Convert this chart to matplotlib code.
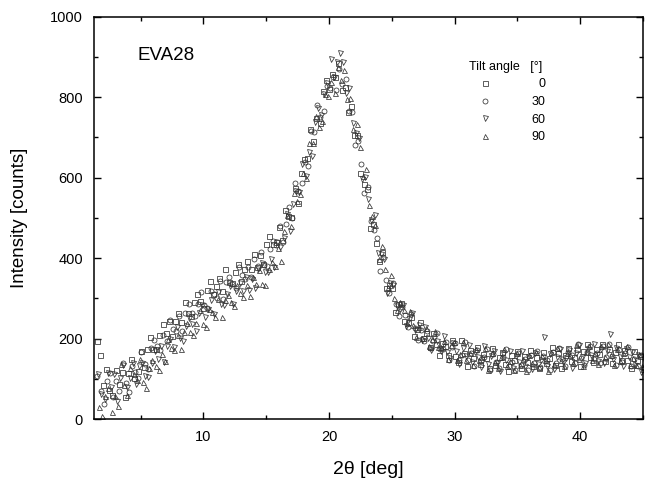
import matplotlib
matplotlib.use("Agg")
import matplotlib.pyplot as plt
import numpy as np
from matplotlib.ticker import MultipleLocator

plt.rcParams['font.family'] = ['Liberation Sans', 'DejaVu Sans']

# 2theta scan: step 0.25 deg, each tilt scan starts slightly shifted
step = 0.25
scan_start = [1.5, 1.5625, 1.625, 1.6875]

# intensities, one list per tilt angle
tilt_0 = [195, 160, 85, 124, 73, 59, 123, 87, 118, 55,
          115, 149, 101, 120, 169, 130, 174, 205, 174, 174,
          209, 236, 214, 244, 206, 243, 263, 241, 292, 263,
          257, 292, 312, 294, 277, 322, 342, 310, 330, 351,
          318, 372, 341, 338, 366, 386, 342, 373, 392, 374,
          411, 378, 407, 386, 434, 455, 435, 440, 478, 444,
          519, 504, 503, 575, 537, 611, 646, 650, 721, 692,
          749, 735, 815, 844, 821, 859, 851, 886, 819, 826,
          763, 778, 707, 706, 612, 585, 571, 474, 484, 438,
          393, 415, 325, 334, 326, 266, 286, 289, 243, 242,
          254, 206, 224, 241, 201, 215, 179, 213, 187, 158,
          190, 181, 158, 197, 157, 143, 196, 165, 131, 172,
          152, 179, 137, 162, 151, 126, 177, 135, 153, 166,
          138, 119, 160, 147, 168, 126, 156, 142, 171, 132,
          154, 126, 166, 140, 151, 179, 135, 164, 128, 158,
          177, 145, 154, 175, 131, 168, 187, 155, 142, 175,
          161, 187, 145, 173, 139, 166, 187, 146, 172, 147,
          126, 168, 146, 157, 125]

tilt_30 = [108, 70, 38, 94, 114, 55, 95, 69, 140, 89,
           66, 131, 117, 103, 167, 138, 125, 176, 196, 181,
           171, 208, 193, 246, 224, 219, 256, 220, 264, 285,
           264, 256, 286, 316, 284, 276, 319, 310, 300, 343,
           299, 340, 353, 335, 325, 379, 358, 349, 378, 353,
           398, 381, 416, 384, 381, 423, 443, 433, 480, 440,
           486, 527, 500, 588, 566, 586, 640, 629, 716, 714,
           780, 750, 766, 829, 823, 851, 819, 871, 832, 845,
           767, 763, 682, 691, 633, 562, 578, 493, 469, 449,
           367, 402, 345, 314, 338, 286, 255, 278, 259, 229,
           260, 227, 196, 222, 195, 220, 176, 193, 214, 174,
           175, 191, 146, 180, 189, 146, 160, 191, 146, 163,
           133, 172, 145, 153, 175, 122, 162, 142, 127, 154,
           173, 131, 143, 122, 164, 134, 149, 121, 160, 139,
           168, 129, 157, 148, 121, 166, 139, 177, 149, 132,
           166, 159, 140, 186, 151, 134, 167, 181, 149, 164,
           139, 181, 153, 186, 157, 134, 172, 142, 163, 180,
           133, 149, 132, 158, 128]

tilt_60 = [112, 63, 51, 115, 80, 111, 45, 103, 134, 79,
           102, 139, 88, 131, 140, 106, 104, 139, 169, 149,
           182, 143, 181, 200, 179, 229, 201, 194, 231, 252,
           236, 218, 263, 283, 253, 273, 295, 262, 317, 286,
           283, 311, 331, 287, 318, 337, 318, 354, 320, 349,
           326, 372, 389, 365, 365, 398, 378, 439, 427, 449,
           510, 467, 534, 566, 565, 633, 604, 664, 655, 738,
           774, 756, 807, 836, 896, 851, 888, 910, 888, 810,
           823, 737, 712, 699, 597, 602, 546, 495, 508, 412,
           410, 398, 314, 338, 333, 282, 274, 283, 232, 248,
           263, 222, 235, 197, 229, 201, 171, 202, 193, 169,
           207, 166, 151, 189, 170, 136, 177, 157, 184, 141,
           166, 155, 130, 181, 138, 156, 169, 140, 120, 161,
           148, 169, 126, 156, 141, 170, 131, 153, 125, 164,
           138, 148, 203, 133, 162, 125, 155, 174, 142, 151,
           172, 128, 165, 184, 153, 140, 174, 159, 186, 144,
           173, 140, 168, 212, 150, 177, 153, 132, 175, 154,
           166, 134, 158, 118, 143]

tilt_90 = [30, 8, 57, 76, 17, 58, 32, 137, 84, 61,
           126, 113, 96, 149, 91, 77, 126, 146, 131, 121,
           161, 145, 199, 176, 172, 208, 173, 216, 238, 216,
           210, 240, 270, 237, 230, 273, 265, 254, 298, 254,
           295, 308, 290, 280, 334, 313, 304, 333, 307, 352,
           335, 370, 336, 333, 373, 391, 380, 425, 392, 467,
           507, 480, 563, 541, 559, 612, 599, 686, 686, 753,
           725, 741, 809, 803, 839, 811, 876, 842, 867, 795,
           798, 722, 733, 676, 604, 621, 531, 506, 482, 399,
           430, 372, 329, 358, 302, 271, 290, 270, 238, 269,
           235, 203, 229, 202, 226, 181, 198, 218, 178, 179,
           195, 149, 183, 192, 148, 162, 192, 148, 165, 134,
           174, 146, 154, 177, 123, 163, 143, 128, 155, 173,
           131, 144, 122, 164, 134, 149, 120, 160, 139, 167,
           129, 156, 147, 120, 166, 138, 176, 148, 131, 165,
           158, 139, 185, 150, 133, 166, 181, 148, 164, 138,
           181, 153, 186, 158, 135, 173, 144, 165, 182, 135,
           152, 135, 161, 131, 165]

labels = ["  0", "30", "60", "90"]
markers = ["s", "o", "v", "^"]
data = [tilt_0, tilt_30, tilt_60, tilt_90]

fig = plt.figure(figsize=(6.45, 4.8), dpi=100)
ax = fig.add_axes([0.146, 0.127, 0.851, 0.838])

for start, vals, lab, mk in zip(scan_start, data, labels, markers):
    x = start + step * np.arange(len(vals))
    ax.plot(x, vals, linestyle="none", marker=mk, markersize=3.6,
            markerfacecolor="none", markeredgecolor="#333333",
            markeredgewidth=0.55, label=lab)

ax.set_xlim(1.3, 45)
ax.set_ylim(0, 1000)
ax.xaxis.set_major_locator(MultipleLocator(10))
ax.xaxis.set_minor_locator(MultipleLocator(5))
ax.yaxis.set_major_locator(MultipleLocator(200))
ax.yaxis.set_minor_locator(MultipleLocator(100))
ax.tick_params(which="both", direction="in", top=True, right=True,
               labelsize=10.5, width=1, pad=8)
ax.tick_params(which="major", length=5)
ax.tick_params(which="minor", length=3)
for sp in ax.spines.values():
    sp.set_linewidth(1.1)

ax.set_xlabel("2θ [deg]", fontsize=14, labelpad=12)
ax.set_ylabel("Intensity [counts]", fontsize=13.5, labelpad=16)

ax.text(4.75, 905, "EVA28", fontsize=13.5, va="center", ha="left")

ax.legend(title="Tilt angle   [°]", loc="upper left", alignment="left",
          bbox_to_anchor=(0.674, 0.903), frameon=False, fontsize=9,
          title_fontsize=9, handlelength=2.5, handletextpad=2.5,
          labelspacing=0.45, borderaxespad=0, markerscale=1)

fig.savefig("out.png", dpi=100)
